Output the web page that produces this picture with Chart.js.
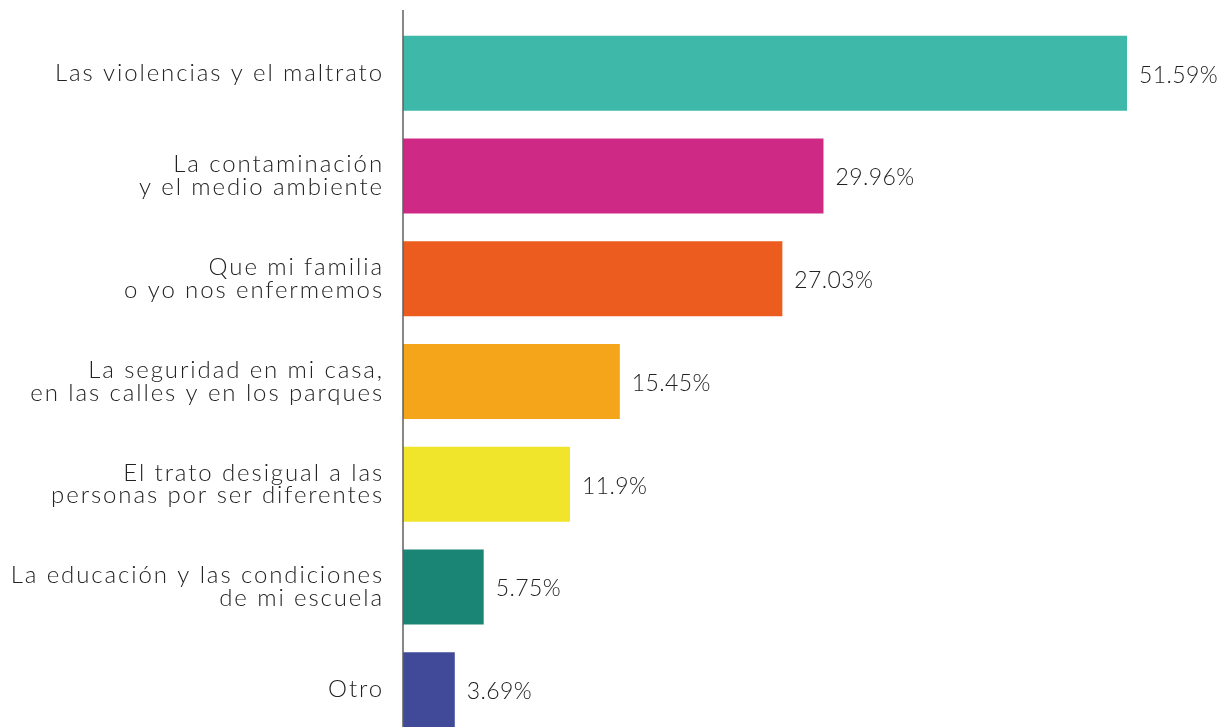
<!DOCTYPE html>
<html>
<head>
<meta charset="utf-8">
<script src="https://cdn.jsdelivr.net/npm/chart.js@4.4.1/dist/chart.umd.min.js"></script>
<style>
  html, body { margin: 0; padding: 0; background: #fff; overflow: hidden; }
  #wrap { width: 1221px; height: 727px; overflow: hidden; }
  canvas { display: block; }
</style>
</head>
<body>
<div id="wrap"><canvas id="chart" width="1221" height="741"></canvas></div>
<script>
const categories = [
    ['Las violencias y el maltrato'],
    ['La contaminación', 'y el medio ambiente'],
    ['Que mi familia', 'o yo nos enfermemos'],
    ['La seguridad en mi casa,', 'en las calles y en los parques'],
    ['El trato desigual a las', 'personas por ser diferentes'],
    ['La educación y las condiciones', 'de mi escuela'],
    ['Otro']
];
const values = [51.59, 29.96, 27.03, 15.45, 11.9, 5.75, 3.69];
const valueLabels = ['51.59%', '29.96%', '27.03%', '15.45%', '11.9%', '5.75%', '3.69%'];
const barColors = ['#3db8a9', '#ce2a85', '#ec5c1e', '#f5a51a', '#f0e52a', '#1a8575', '#404a98'];

const fontFamily = 'Lato, "Open Sans", sans-serif';

// wider letter spacing for the category labels
const spacingPlugin = {
    id: 'spacing',
    beforeDraw(chart) {
        chart.ctx.letterSpacing = '1.9px';
    },
    afterDraw(chart) {
        chart.ctx.letterSpacing = '0px';
    }
};

// value text at the end of every bar
const valueTextPlugin = {
    id: 'valueText',
    afterDatasetsDraw(chart) {
        const c = chart.ctx;
        const meta = chart.getDatasetMeta(0);
        c.save();
        c.letterSpacing = '0.4px';
        c.font = `300 23px ${fontFamily}`;
        c.fillStyle = '#222';
        c.textBaseline = 'middle';
        c.textAlign = 'left';
        meta.data.forEach((bar, i) => {
            c.fillText(valueLabels[i], bar.x + 12, bar.y + 2);
        });
        c.restore();
    }
};

// the vertical axis line runs a little above the first bar
const axisLinePlugin = {
    id: 'axisLine',
    afterDraw(chart) {
        const c = chart.ctx;
        const x = chart.chartArea.left;
        c.save();
        c.strokeStyle = '#5f5f5f';
        c.lineWidth = 1.5;
        c.beginPath();
        c.moveTo(x, 10);
        c.lineTo(x, chart.chartArea.bottom);
        c.stroke();
        c.restore();
    }
};

new Chart(document.getElementById('chart'), {
    type: 'bar',
    data: {
        labels: categories,
        datasets: [{
            data: values,
            backgroundColor: barColors,
            categoryPercentage: 1,
            barPercentage: 0.73
        }]
    },
    options: {
        indexAxis: 'y',
        responsive: false,
        animation: false,
        layout: { padding: { top: 22, right: 4, bottom: 0, left: 0 } },
        plugins: {
            legend: { display: false },
            tooltip: { enabled: false }
        },
        scales: {
            x: {
                display: false,
                min: 0,
                max: 58
            },
            y: {
                afterFit: s => {
                    s.width = 403;
                    s.paddingTop = 0;
                    s.paddingBottom = 0;
                },
                grid: { display: false, drawTicks: false },
                border: { display: false },
                ticks: {
                    padding: 19,
                    color: '#222',
                    font: { family: fontFamily, size: 24, weight: 300, lineHeight: 0.95 }
                }
            }
        }
    },
    plugins: [spacingPlugin, valueTextPlugin, axisLinePlugin]
});
</script>
</body>
</html>
